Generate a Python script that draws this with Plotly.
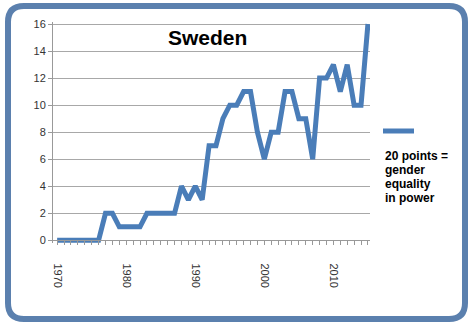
import plotly.graph_objects as go

years = list(range(1970, 2016))
values = [0, 0, 0, 0, 0, 0, 0,
          2, 2,
          1, 1, 1, 1,
          2, 2, 2, 2, 2,
          4, 3, 4, 3,
          7, 7, 9, 10, 10, 11, 11, 8, 6, 8, 8, 11, 11, 9, 9, 6, 12, 12, 13, 11, 13, 10, 10, 16]
x_tick_labels = ["1970", "1980", "1990", "2000", "2010"]
x_tick_vals = [1970, 1980, 1990, 2000, 2010]
y_tick_vals = [0, 2, 4, 6, 8, 10, 12, 14, 16]
title_text = "Sweden"
legend_lines = ["20 points =", "gender", "equality", "in power"]

LINE = "#4A7DB8"
FRAME = "#5B80AE"
W, H = 471, 328
L, R, T, B = 53, 101, 22, 85
PW, PH = W - L - R, H - T - B


def px(x):
    return (x - L) / PW


def py(y):
    return (H - B - y) / PH


fig = go.Figure()
fig.add_trace(go.Scatter(x=years, y=values, mode="lines",
                         line=dict(color=LINE, width=5), showlegend=False,
                         hoverinfo="skip"))

# rounded frame
x0, x1, y0, y1, r = 8, 465, 6, 319, 16
path = (f"M {px(x0 + r)},{py(y0)} L {px(x1 - r)},{py(y0)} "
        f"Q {px(x1)},{py(y0)} {px(x1)},{py(y0 + r)} "
        f"L {px(x1)},{py(y1 - r)} Q {px(x1)},{py(y1)} {px(x1 - r)},{py(y1)} "
        f"L {px(x0 + r)},{py(y1)} Q {px(x0)},{py(y1)} {px(x0)},{py(y1 - r)} "
        f"L {px(x0)},{py(y0 + r)} Q {px(x0)},{py(y0)} {px(x0 + r)},{py(y0)} Z")
fig.add_shape(type="path", path=path, xref="paper", yref="paper",
              line=dict(color=FRAME, width=6), layer="above")

# legend sample
fig.add_shape(type="line", xref="paper", yref="paper",
              x0=px(383), x1=px(414), y0=py(131), y1=py(131),
              line=dict(color=LINE, width=5))
for i, t in enumerate(legend_lines):
    fig.add_annotation(text=f"<b>{t}</b>", xref="paper", yref="paper",
                       x=px(383), y=py(156 + 14 * i), xanchor="left", yanchor="middle",
                       align="left", showarrow=False,
                       font=dict(family="Liberation Sans, Arial", size=12, color="#000"))
fig.add_annotation(text=f"<b>{title_text}</b>", xref="paper", yref="paper",
                   x=px(207), y=py(37), xanchor="center", yanchor="middle",
                   showarrow=False,
                   font=dict(family="Liberation Sans, Arial", size=21, color="#000"))

ymin, ymax = -0.2, 16.15
fig.update_layout(
    width=W, height=H,
    margin=dict(l=L, r=R, t=T, b=B),
    paper_bgcolor="white", plot_bgcolor="white",
    xaxis=dict(range=[1969.4, 2015.3], tickvals=x_tick_vals, ticktext=x_tick_labels,
               tickangle=90, ticks="outside", ticklen=4, tickcolor="#999",
               showgrid=False, showline=True, linecolor="#999", linewidth=1,
               zeroline=False, anchor="free", position=(0 - ymin) / (ymax - ymin),
               ticklabelstandoff=16,
               minor=dict(dtick=1, tick0=1970, ticks="outside", ticklen=4, tickcolor="#999", showgrid=False),
               tickfont=dict(family="Liberation Sans, Arial", size=11, color="#333")),
    yaxis=dict(range=[ymin, ymax], tickvals=y_tick_vals, ticks="outside", ticklen=4,
               tickcolor="#999", showgrid=True, gridcolor="#A8A8A8", gridwidth=1,
               showline=True, linecolor="#999", zeroline=False,
               tickfont=dict(family="Liberation Sans, Arial", size=11, color="#333")),
)

fig.write_html("out.html")
